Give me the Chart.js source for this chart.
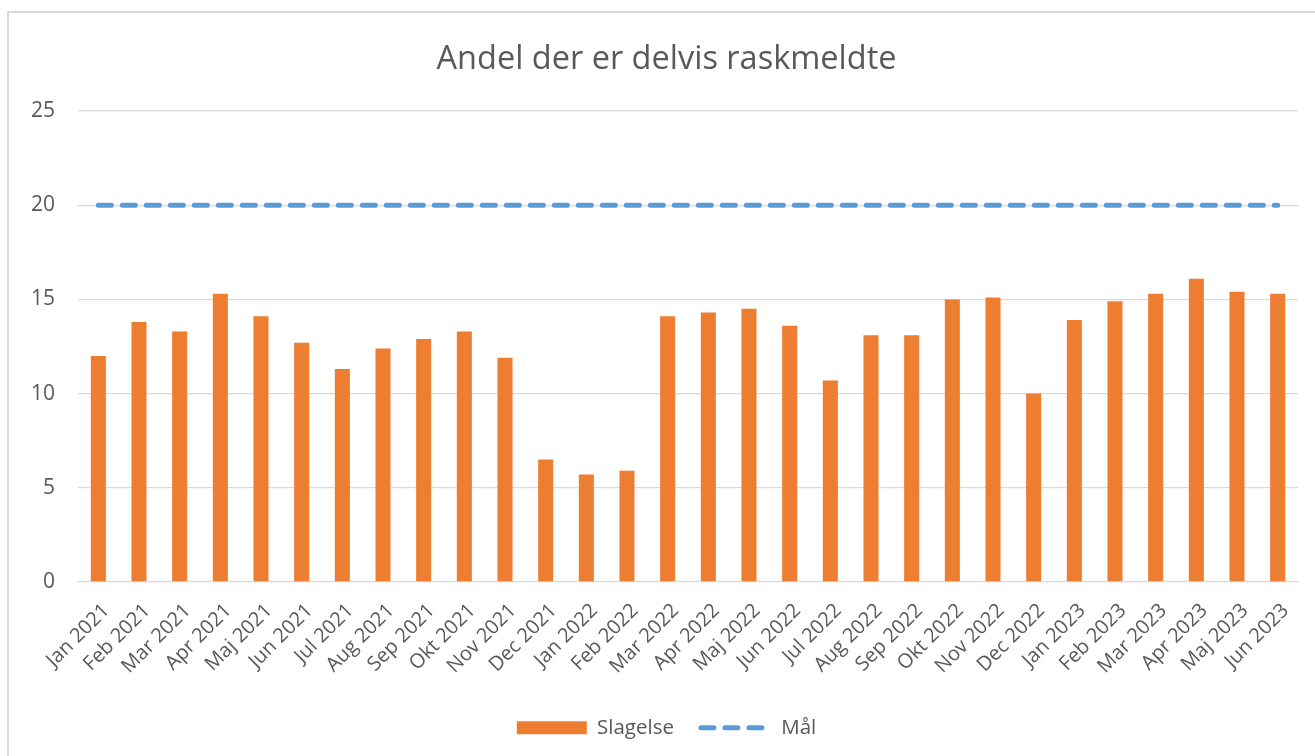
<!DOCTYPE html>
<html>
<head>
<meta charset="utf-8">
<script src="https://cdn.jsdelivr.net/npm/chart.js@4.4.1/dist/chart.umd.min.js"></script>
<style>
  html, body { margin: 0; padding: 0; background: #ffffff; overflow: hidden; }
  #frame { position: absolute; left: 7px; top: 11px; width: 1400px; height: 800px; border: 2px solid #D9D9D9; box-sizing: border-box; }
  #c { position: absolute; left: 0; top: 0; }
</style>
</head>
<body>
<div id="frame"></div>
<canvas id="c" width="1315" height="756"></canvas>
<script>
const categories = ["Jan 2021","Feb 2021","Mar 2021","Apr 2021","Maj 2021","Jun 2021","Jul 2021","Aug 2021","Sep 2021","Okt 2021","Nov 2021","Dec 2021",
  "Jan 2022","Feb 2022","Mar 2022","Apr 2022","Maj 2022","Jun 2022","Jul 2022","Aug 2022","Sep 2022","Okt 2022","Nov 2022","Dec 2022",
  "Jan 2023","Feb 2023","Mar 2023","Apr 2023","Maj 2023","Jun 2023"];
const slagelse = [12.0, 13.8, 13.3, 15.3, 14.1, 12.7, 11.3, 12.4, 12.9, 13.3, 11.9, 6.5,
  5.7, 5.9, 14.1, 14.3, 14.5, 13.6, 10.7, 13.1, 13.1, 15.0, 15.1, 10.0,
  13.9, 14.9, 15.3, 16.1, 15.4, 15.3];
const maal = [20, 20, 20, 20, 20, 20, 20, 20, 20, 20, 20, 20,
  20, 20, 20, 20, 20, 20, 20, 20, 20, 20, 20, 20,
  20, 20, 20, 20, 20, 20];
const yTicks = [0, 5, 10, 15, 20, 25];
const titleText = "Andel der er delvis raskmeldte";

const FONT = "'Open Sans', 'Noto Sans', sans-serif";
const TXT = "#595959";
const ORANGE = "#ED7D31";
const BLUE = "#5B9BD5";
const GRID = "#D9D9D9";

new Chart(document.getElementById('c'), {
  data: {
    labels: categories,
    datasets: [
      {
        type: 'line', label: 'Mål', data: maal, order: 0, yAxisID: 'y',
        borderColor: BLUE, backgroundColor: BLUE, borderWidth: 5,
        borderDash: [13, 11], borderCapStyle: 'round',
        pointRadius: 0, pointHoverRadius: 0, fill: false, tension: 0
      },
      {
        type: 'bar', label: 'Slagelse', data: slagelse, order: 1, yAxisID: 'y',
        backgroundColor: ORANGE, borderWidth: 0,
        categoryPercentage: 1.0, barPercentage: 0.37
      }
    ]
  },
  options: {
    responsive: false,
    animation: false,
    layout: { padding: { left: 18, right: 0, top: 0, bottom: 8 } },
    plugins: {
      title: {
        display: true, text: titleText, color: TXT,
        font: { family: FONT, size: 32.5, weight: 'normal' },
        padding: { top: 40, bottom: 32 }
      },
      legend: {
        position: 'bottom',
        labels: {
          usePointStyle: true, pointStyleWidth: 70, boxHeight: 13,
          padding: 27, color: TXT,
          font: { family: FONT, size: 20.5 },
          generateLabels: (chart) => {
            const ds = chart.data.datasets;
            return [
              { text: ds[1].label, fillStyle: ORANGE, strokeStyle: ORANGE, lineWidth: 0, pointStyle: 'rect', datasetIndex: 1, fontColor: TXT },
              { text: ds[0].label, fillStyle: BLUE, strokeStyle: BLUE, lineWidth: 5, lineDash: [13, 11], lineCap: 'round', pointStyle: 'line', datasetIndex: 0, fontColor: TXT }
            ];
          }
        }
      },
      tooltip: { enabled: false }
    },
    scales: {
      x: {
        grid: { display: false },
        border: { display: false },
        ticks: {
          color: TXT, font: { family: FONT, size: 20 },
          minRotation: 45, maxRotation: 45, autoSkip: false, padding: 9, labelOffset: 8
        },
        afterFit: (s) => { s.height = 108.5; }
      },
      y: {
        position: 'left',
        min: 0, max: 25,
        afterBuildTicks: (s) => { s.ticks = yTicks.map(v => ({ value: v })); },
        grid: { color: GRID, lineWidth: 1.3, drawTicks: false },
        border: { display: false },
        ticks: { color: TXT, font: { family: FONT, size: 21 }, padding: 23 },
        afterFit: (s) => { s.width = 60; }
      },
      yRightSpace: {
        position: 'right',
        min: 0, max: 25,
        grid: { display: false, drawOnChartArea: false, drawTicks: false },
        border: { display: false },
        ticks: { display: false },
        afterFit: (s) => { s.width = 17; }
      }
    }
  }
});
</script>
</body>
</html>
